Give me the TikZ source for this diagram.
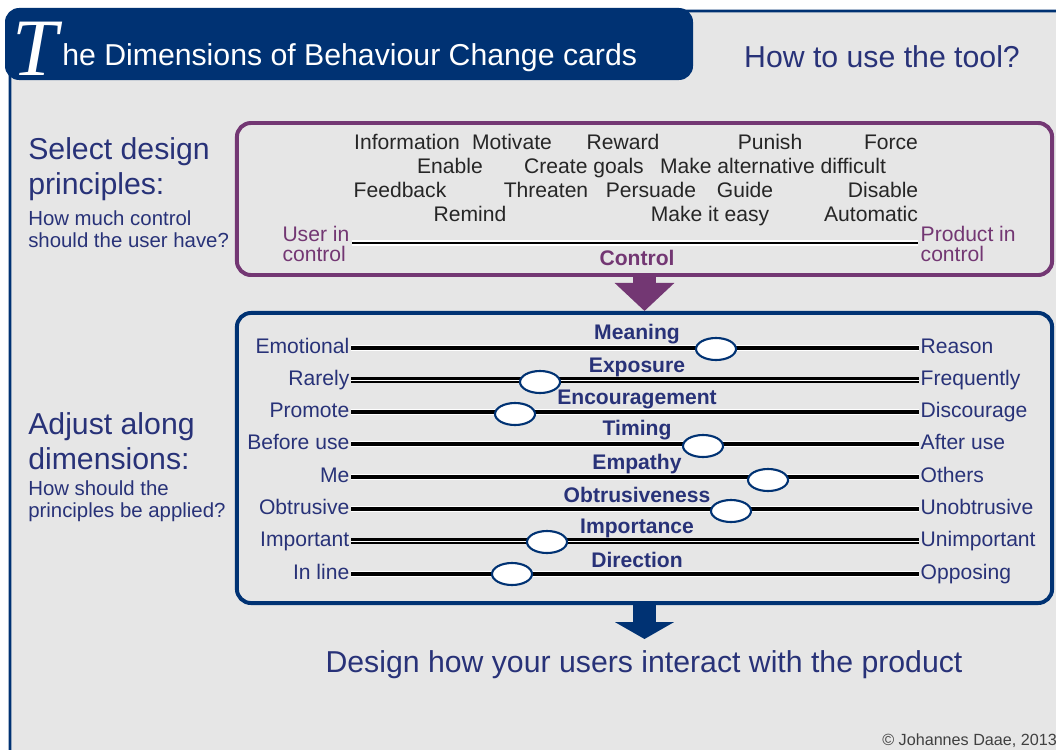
\documentclass[tikz,border=0pt]{standalone}
\usepackage{fontspec}
\setmainfont{Liberation Sans}
\newfontfamily\swashfont{Liberation Serif}
\usetikzlibrary{arrows.meta,shapes.geometric,positioning}

\definecolor{navy}{RGB}{0,50,115}
\definecolor{plum}{RGB}{115,55,115}
\definecolor{ink}{RGB}{40,50,120}
\definecolor{panel}{RGB}{230,230,230}

\newcommand{\bigfont}{\fontsize{21.5}{24.5}\selectfont}
\newcommand{\midfont}{\fontsize{15}{14}\selectfont}
\newcommand{\notefont}{\fontsize{14.5}{15.6}\selectfont}
\newcommand{\creditfont}{\fontsize{11.5}{13}\selectfont}

\begin{document}
\begin{tikzpicture}[x=0.025cm, y=-0.025cm,
  frame/.style={draw=navy, line width=2pt, fill=panel, rounded corners=12pt},
  panelbox/.style={rectangle, rounded corners=10pt, line width=2.8pt,
    minimum width=20.375cm, inner sep=0pt},
  principle/.style={font=\midfont, text=black!85, text height=0.72em, text depth=0pt, inner sep=0pt},
  pole/.style={font=\midfont, text=ink, text height=0.72em, text depth=0pt, inner sep=1pt},
  dimname/.style={font=\midfont\bfseries, text=ink, inner sep=0pt},
  track/.style={draw=black, line width=2.2pt, preaction={draw=white, line width=3.8pt}},
  dtrack/.style={draw=black, line width=1.5pt, double=white, double distance=0.7pt},
  knob/.style={ellipse, draw=navy, fill=white, line width=1.5pt,
    minimum width=1cm, minimum height=0.55cm, inner sep=0pt},
  heading/.style={font=\bigfont, text=ink, align=left, inner sep=0pt},
  note/.style={font=\notefont, text=ink, align=left, inner sep=0pt},
  push/.style={line width=0.56cm},
]
\path[use as bounding box, fill=white] (0,0) rectangle (1056,749);
\draw[frame] (10,11) rectangle (1080,775);

% title tab
\fill[navy, rounded corners=10pt] (5,8) rectangle (693,80);
\node[anchor=base west, text=white, inner sep=0pt, font=\swashfont\itshape\fontsize{58}{58}\selectfont] (bigT) at (12,76) {T};
\node[anchor=base west, text=white, inner sep=0pt, font=\bigfont] (title) at (62,66) {he Dimensions of Behaviour Change cards};
\node[anchor=base, text=ink, inner sep=0pt, font=\bigfont] (howto) at (882,68) {How to use the tool?};

% left column
\node[heading, anchor=west] (selhead) at (28,169) {Select design\\principles:};
\node[note, anchor=west] (selnote) at (28,229) {How much control\\should the user have?};
\node[heading, anchor=west] (adjhead) at (28,441) {Adjust along\\dimensions:};
\node[note, anchor=west] (adjnote) at (28,501) {How should the\\principles be applied?};

% design principles
\node[panelbox, draw=plum, minimum height=3.8cm] (select) at (644.5,199) {};
\node[principle] (info) at (407,144) {Information};
\node[principle] (motivate) at (512,144) {Motivate};
\node[principle] (reward) at (623,144) {Reward};
\node[principle] (punish) at (770,144) {Punish};
\node[principle] (force) at (891,144) {Force};
\node[principle] (enable) at (450,168) {Enable};
\node[principle] (goals) at (584,168) {Create goals};
\node[principle] (altdiff) at (773,168) {Make alternative difficult};
\node[principle] (feedback) at (400,192) {Feedback};
\node[principle] (threaten) at (546,192) {Threaten};
\node[principle] (persuade) at (651,192) {Persuade};
\node[principle] (guide) at (745,192) {Guide};
\node[principle] (disable) at (883,192) {Disable};
\node[principle] (remind) at (470,216) {Remind};
\node[principle] (easy) at (710,216) {Make it easy};
\node[principle] (auto) at (871,216) {Automatic};

\node[font=\midfont, text=plum, align=left, inner sep=1pt, anchor=east] (userctl) at (351,244) {User in\\control};
\node[font=\midfont, text=plum, align=left, inner sep=1pt, anchor=west] (prodctl) at (919,244) {Product in\\control};
\coordinate (ctlL) at (352,243);
\coordinate (ctlR) at (918,243);
\draw[track, line width=1.6pt] (ctlL) -- (ctlR);
\node[font=\midfont\bfseries, text=plum, inner sep=0pt] (control) at (637,258) {Control};

% dimensions
\node[panelbox, draw=navy, minimum height=7.25cm] (adjust) at (644.5,458) {};

\node[pole, anchor=east] (emo) at (351,348) {Emotional};
\node[pole, anchor=west] (reason) at (919,348) {Reason};
\draw[track] (emo) -- (reason);
\node[dimname] (meaning) at (637,334) {Meaning};
\node[knob] (meaningknob) at (716,349) {};

\node[pole, anchor=east] (rarely) at (351,380) {Rarely};
\node[pole, anchor=west] (freq) at (919,380) {Frequently};
\draw[dtrack] (rarely) -- (freq);
\node[dimname] (exposure) at (637,367) {Exposure};
\node[knob] (exposureknob) at (540,382) {};

\node[pole, anchor=east] (promote) at (351,412) {Promote};
\node[pole, anchor=west] (discourage) at (919,412) {Discourage};
\draw[track] (promote) -- (discourage);
\node[dimname] (encourage) at (637,399) {Encouragement};
\node[knob] (encourageknob) at (515,414) {};

\node[pole, anchor=east] (before) at (351,444) {Before use};
\node[pole, anchor=west] (after) at (919,444) {After use};
\draw[track] (before) -- (after);
\node[dimname] (timing) at (637,430) {Timing};
\node[knob] (timingknob) at (703,446) {};

\node[pole, anchor=east] (me) at (351,477) {Me};
\node[pole, anchor=west] (others) at (919,477) {Others};
\draw[track] (me) -- (others);
\node[dimname] (empathy) at (637,464) {Empathy};
\node[knob] (empathyknob) at (768,480) {};

\node[pole, anchor=east] (obtr) at (351,509) {Obtrusive};
\node[pole, anchor=west] (unobtr) at (919,509) {Unobtrusive};
\draw[track] (obtr) -- (unobtr);
\node[dimname] (obtrness) at (637,495) {Obtrusiveness};
\node[knob] (obtrknob) at (731,511) {};

\node[pole, anchor=east] (imp) at (351,541) {Important};
\node[pole, anchor=west] (unimp) at (919,541) {Unimportant};
\draw[dtrack] (imp) -- (unimp);
\node[dimname] (importance) at (637,528) {Importance};
\node[knob] (impknob) at (547,542) {};

\node[pole, anchor=east] (inline) at (351,574) {In line};
\node[pole, anchor=west] (opposing) at (919,574) {Opposing};
\draw[track] (inline) -- (opposing);
\node[dimname] (direction) at (637,560) {Direction};
\node[knob] (dirknob) at (512,574) {};

% flow arrows
\coordinate (tipB) at (644.5,639);
\draw[push, draw=plum, -{Triangle[width=1.45cm,length=0.7cm]}] (select.south) -- (adjust.north);
\draw[push, draw=navy, -{Triangle[width=1.45cm,length=0.42cm]}] (adjust.south) -- (tipB);

\node[anchor=base, text=ink, inner sep=0pt, font=\bigfont] (design) at (644,672) {Design how your users interact with the product};
\node[anchor=base west, text=black!75, inner sep=0pt, font=\creditfont] (credit) at (882,745) {\textcopyright{} Johannes Daae, 2013};
\end{tikzpicture}
\end{document}
